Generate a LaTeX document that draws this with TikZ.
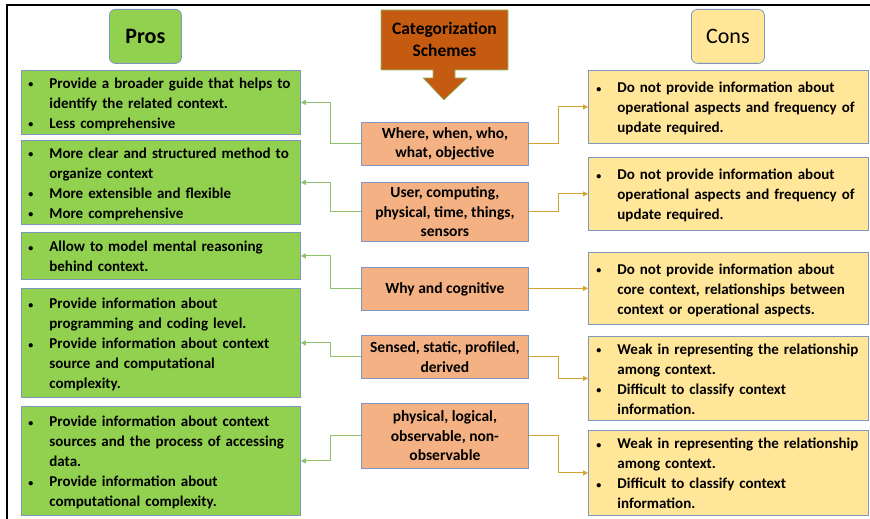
\documentclass[tikz,border=0pt]{standalone}
\usepackage{fontspec}
\setmainfont{Carlito}
\usetikzlibrary{arrows.meta}

\definecolor{prosgreen}{HTML}{92D050}
\definecolor{consyellow}{HTML}{FFE699}
\definecolor{midsalmon}{HTML}{F4B183}
\definecolor{schemeorange}{HTML}{C55A11}
\definecolor{edgeblue}{HTML}{7F96BF}
\definecolor{linkgreen}{HTML}{8DC26B}
\definecolor{linkgold}{HTML}{D2A530}

% one bullet line, and one carried-on line
\newcommand{\bul}[1]{\noindent\strut\makebox[24pt][l]{\hspace{3pt}\raisebox{0.5pt}{\fontsize{10}{10}\selectfont\textbullet}}#1\par}
\newcommand{\cont}[1]{\noindent\strut\hspace*{24pt}#1\par}

\tikzset{
  listbox/.style={draw=edgeblue, line width=0.8pt, anchor=north west, inner ysep=0pt,
    align=left, font=\bfseries\fontsize{15}{20}\selectfont,
    execute at begin node={\rule{0pt}{18pt}}},
  probox/.style={listbox, fill=prosgreen, inner xsep=4pt, text width=271pt, minimum width=279pt},
  conbox/.style={listbox, fill=consyellow, inner xsep=5pt, text width=270pt, minimum width=280pt},
  midbox/.style={draw=edgeblue, line width=0.8pt, fill=midsalmon, anchor=north west, inner sep=0pt,
    align=center, minimum width=167pt, font=\bfseries\fontsize{15.5}{19.5}\selectfont},
  headbox/.style={draw=edgeblue, line width=0.8pt, rounded corners=6pt, anchor=north west,
    minimum width=72pt, minimum height=54pt, font=\fontsize{22}{26}\selectfont},
  prolink/.style={draw=linkgreen, line width=1pt, -{Triangle[length=5pt,width=5pt]}},
  conlink/.style={draw=linkgold, line width=1pt, -{Triangle[length=5pt,width=5pt]}}
}

\begin{document}
\begin{tikzpicture}[x=1pt,y=-1pt]
  \useasboundingbox (0,0) rectangle (870,519);
  % Frame
  \draw[line width=1.8pt] (7,520) -- (7,5) -- (871,5);
  % Headings
  \node[headbox, fill=prosgreen, font=\bfseries\fontsize{22}{26}\selectfont] (pros) at (109,9) {Pros};
  \node[headbox, fill=consyellow, minimum width=73pt] (cons) at (691,9) {Cons};
  % Callout
  \draw[draw=linkgreen, line width=0.6pt, fill=schemeorange]
    (381,10) -- (508,10) -- (508,70) -- (455,70) -- (455,78) -- (467,78) -- (444,100)
    -- (423,78) -- (433,78) -- (433,70) -- (381,70) -- cycle;
  \node[font=\bfseries\fontsize{17.5}{22}\selectfont, align=center] (scheme) at (444.5,39)
    {Categorization\\Schemes};
  % Pros
  \node[probox, minimum height=61pt] (p1) at (21,70)
    {\bul{Provide a broader guide that helps to}\cont{identify the related context.}\bul{Less comprehensive}};
  \node[probox, minimum height=84pt] (p2) at (21,140)
    {\bul{More clear and structured method to}\cont{organize context}\bul{More extensible and flexible}\bul{More comprehensive}};
  \node[probox, minimum height=47pt] (p3) at (21,232)
    {\bul{Allow to model mental reasoning}\cont{behind context.}};
  \node[probox, minimum height=109pt] (p4) at (21,288)
    {\bul{Provide information about}\cont{programming and coding level.}\bul{Provide information about context}\cont{source and computational}\cont{complexity.}};
  \node[probox, minimum height=109pt] (p5) at (21,406)
    {\bul{Provide information about context}\cont{sources and the process of accessing}\cont{data.}\bul{Provide information about}\cont{computational complexity.}};
  % Schemes
  \node[midbox, minimum height=43pt] (m1) at (361,122) {Where, when, who,\\what, objective};
  \node[midbox, minimum height=59pt] (m2) at (361,182) {User, computing,\\physical, time, things,\\sensors};
  \node[midbox, minimum height=43pt] (m3) at (361,267) {Why and cognitive};
  \node[midbox, minimum height=43pt] (m4) at (361,335) {Sensed, static, profiled,\\derived};
  \node[midbox, minimum height=65pt] (m5) at (361,403) {physical, logical,\\observable, non-\\observable};
  % Cons
  \node[conbox, minimum height=73pt] (r1) at (588,70)
    {\bul{Do not provide information about}\cont{operational aspects and frequency of}\cont{update required.}};
  \node[conbox, minimum height=73pt] (r2) at (588,157)
    {\bul{Do not provide information about}\cont{operational aspects and frequency of}\cont{update required.}};
  \node[conbox, minimum height=72pt] (r3) at (588,252)
    {\bul{Do not provide information about}\cont{core context, relationships between}\cont{context or operational aspects.}};
  \node[conbox, minimum height=82pt] (r4) at (588,336)
    {\bul{Weak in representing the relationship}\cont{among context.}\bul{Difficult to classify context}\cont{information.}};
  \node[conbox, minimum height=85pt] (r5) at (588,430)
    {\bul{Weak in representing the relationship}\cont{among context.}\bul{Difficult to classify context}\cont{information.}};
  % Links
  \foreach \i in {1,...,5} {
    \draw[prolink] (m\i.west) -- ++(-31,0) |- (p\i.east);
    \draw[conlink] (m\i.east) -- ++(30,0) |- (r\i.west);
  }
\end{tikzpicture}
\end{document}
